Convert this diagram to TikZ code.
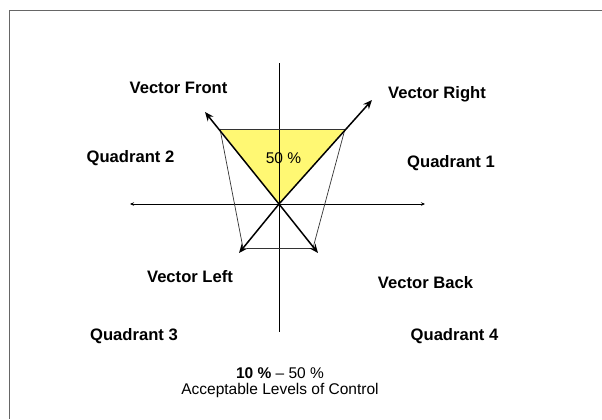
\documentclass[tikz,border=0pt]{standalone}
\usepackage{fontspec}
\setmainfont{Liberation Sans}
\usetikzlibrary{arrows.meta}
\begin{document}
\begin{tikzpicture}[x=1bp,y=-1bp,
  lbl/.style={font=\fontsize{16.6bp}{19bp}\selectfont\bfseries, inner sep=0pt},
  reg/.style={font=\fontsize{15.5bp}{18bp}\selectfont, inner sep=0pt},
  vec/.style={line width=1.5bp, -{Stealth[length=9bp,width=7.5bp]}},
  thin/.style={line width=0.7bp, black!80},
  axis/.style={line width=0.7bp, -{Stealth[length=4bp,width=3.5bp]}}]
\useasboundingbox (0,0) rectangle (602,419);
\fill[white] (0,0) rectangle (602,419);
% frame
\draw[gray!80!black, line width=1.8bp] (9.5,419) -- (9.5,10.5) -- (602,10.5);
% coordinates
\coordinate (O) at (279,204);
\coordinate (TL) at (220,129);
\coordinate (TR) at (345,129);
\coordinate (BL) at (243,248);
\coordinate (BR) at (313,248);
\coordinate (AxL) at (130,204);
\coordinate (AxR) at (425,204);
\coordinate (AxT) at (279,63);
\coordinate (AxB) at (279,332);
\coordinate (VF) at (205,112);
\coordinate (VR) at (372,100);
\coordinate (VL) at (239,253);
\coordinate (VB) at (318,253);
% yellow triangle
\fill[yellow!55] (TL) -- (TR) -- (O) -- cycle;
% axes
\draw[line width=0.7bp] (AxT) -- (AxB);
\draw[axis] (O) -- (AxL);
\draw[axis] (O) -- (AxR);
% trapezoid thin lines
\draw[thin] (TL) -- (TR);
\draw[thin] (TL) -- (BL);
\draw[thin] (TR) -- (BR);
\draw[thin] (247,248) -- (312,248);
% vectors
\draw[vec] (O) -- (VF);
\draw[vec] (O) -- (VR);
\draw[vec] (O) -- (VL);
\draw[vec] (O) -- (VB);
% labels
\node[lbl] (vf) at (178.5,88) {Vector Front};
\node[lbl] (vr) at (437,94) {Vector Right};
\node[lbl] (q2) at (130.5,158) {Quadrant 2};
\node[reg] (p50) at (283.5,158) {50 \%};
\node[lbl] (q1) at (451,163) {Quadrant 1};
\node[lbl] (vl) at (190,277) {Vector Left};
\node[lbl] (vb) at (425.5,283) {Vector Back};
\node[lbl] (q3) at (134,336) {Quadrant 3};
\node[lbl] (q4) at (454.5,336) {Quadrant 4};
\node[reg] (pr) at (280,373) {\textbf{10 \%} – 50 \%};
\node[reg] (acc) at (280,390) {Acceptable Levels of Control};
\end{tikzpicture}
\end{document}
